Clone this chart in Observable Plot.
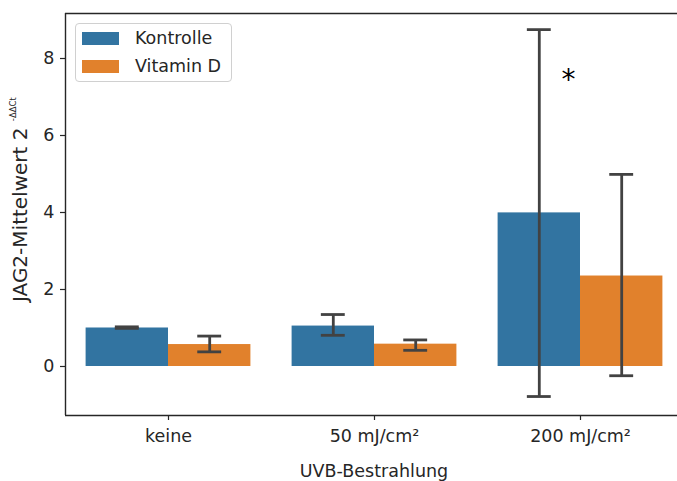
<!DOCTYPE html>
<html>
<head>
<meta charset="utf-8">
<script src="https://cdn.jsdelivr.net/npm/d3@7"></script>
<script src="https://cdn.jsdelivr.net/npm/@observablehq/plot@0.6"></script>
<style>
  html, body { margin: 0; padding: 0; background: #fff; overflow: hidden; }
  #wrap { position: relative; width: 677px; height: 481px; font-family: "DejaVu Sans", sans-serif; }
  #legend { position: absolute; left: 75px; top: 23px; width: 157px; height: 59px; border: 1px solid #d0d0d0; border-radius: 4px; background: rgba(255,255,255,0.85); box-sizing: border-box; }
  .sw { width: 37px; height: 13px; }
  .lt { position: absolute; left: 59px; font-size: 17.5px; color: #262626; white-space: nowrap; line-height: 1; }
</style>
</head>
<body>
<div id="wrap"></div>
<script>
const categories = ["keine", "50 mJ/cm²", "200 mJ/cm²"];
const groups = ["Kontrolle", "Vitamin D"];
const kontrolleMean = [1.00, 1.05, 3.99];
const kontrolleLow  = [0.99, 0.81, -0.78];
const kontrolleHigh = [1.03, 1.35, 8.75];
const vitaminMean = [0.57, 0.58, 2.35];
const vitaminLow  = [0.38, 0.42, -0.24];
const vitaminHigh = [0.79, 0.69, 4.99];
const colors = ["#3274a1", "#e1812c"];
const yTicks = [0, 2, 4, 6, 8];
const starLabel = "*";
const yLabel = "JAG2-Mittelwert 2 ";
const yLabelSup = "-ΔΔCt";
const xLabel = "UVB-Bestrahlung";

const barW = 0.4;
const capHalf = 0.058;
const series = [
  {name: groups[0], mean: kontrolleMean, low: kontrolleLow, high: kontrolleHigh},
  {name: groups[1], mean: vitaminMean, low: vitaminLow, high: vitaminHigh}
];
const rows = [];
series.forEach((s, gi) => {
  categories.forEach((c, ci) => {
    const x1 = ci - 0.4 + gi * barW;
    rows.push({group: s.name, cat: c, x1, x2: x1 + barW, xc: x1 + barW / 2,
      mean: s.mean[ci], low: s.low[ci], high: s.high[ci]});
  });
});

const ink = "#262626";
const errColor = "#424242";
const plot = Plot.plot({
  width: 677,
  height: 481,
  marginLeft: 65,
  marginRight: 0,
  marginTop: 13,
  marginBottom: 66,
  style: {fontFamily: "DejaVu Sans, sans-serif", fontSize: "17.5px", color: ink, background: "#fff"},
  x: {type: "linear", domain: [-0.5, 2.5], range: [65, 683]},
  y: {domain: [-1.273, 9.169]},
  color: {domain: groups, range: colors},
  marks: [
    Plot.rectY(rows, {x1: "x1", x2: "x2", y1: 0, y2: "mean", fill: "group"}),
    Plot.ruleX(rows, {x: "xc", y1: "low", y2: "high", stroke: errColor, strokeWidth: 2.8}),
    Plot.ruleY(rows, {y: "low", x1: d => d.xc - capHalf, x2: d => d.xc + capHalf, stroke: errColor, strokeWidth: 2.8}),
    Plot.ruleY(rows, {y: "high", x1: d => d.xc - capHalf, x2: d => d.xc + capHalf, stroke: errColor, strokeWidth: 2.8}),
    Plot.text([starLabel], {x: 2, y: 7.45, text: d => d, dx: -12, fontSize: 28, fill: "#000", lineAnchor: "middle"}),
    Plot.axisY({ticks: yTicks, tickSize: 5, tickPadding: 6, label: null, stroke: ink, strokeWidth: 1.2}),
    Plot.axisX({ticks: [0, 1, 2], tickFormat: i => categories[i], tickSize: 5, tickPadding: 9, label: null, stroke: ink, strokeWidth: 1.2}),
    Plot.ruleX([-0.5], {stroke: ink, strokeWidth: 1.4}),
    Plot.ruleY([-1.273, 9.169], {stroke: ink, strokeWidth: 1.4})
  ]
});

const wrap = document.getElementById("wrap");
wrap.appendChild(plot);

const svg = d3.select(plot);
const yl = svg.append("text")
  .attr("transform", "translate(27,302) rotate(-90)")
  .attr("text-anchor", "start")
  .attr("font-family", "DejaVu Sans, sans-serif")
  .attr("font-size", 20)
  .attr("fill", ink);
yl.append("tspan").text(yLabel);
yl.append("tspan").attr("font-size", 8.5).attr("dy", -11).text(yLabelSup);

svg.append("text")
  .attr("x", 374).attr("y", 477)
  .attr("text-anchor", "middle")
  .attr("font-family", "DejaVu Sans, sans-serif")
  .attr("font-size", 17.5)
  .attr("fill", ink)
  .text(xLabel);

const legend = document.createElement("div");
legend.id = "legend";
groups.forEach((g, i) => {
  const sw = document.createElement("div");
  sw.className = "sw";
  sw.style.position = "absolute";
  sw.style.left = "6px";
  sw.style.top = (8 + i * 27.5) + "px";
  sw.style.background = colors[i];
  legend.appendChild(sw);
  const t = document.createElement("div");
  t.className = "lt";
  t.style.top = (6 + i * 27.5) + "px";
  t.textContent = g;
  legend.appendChild(t);
});
wrap.appendChild(legend);
</script>
</body>
</html>
